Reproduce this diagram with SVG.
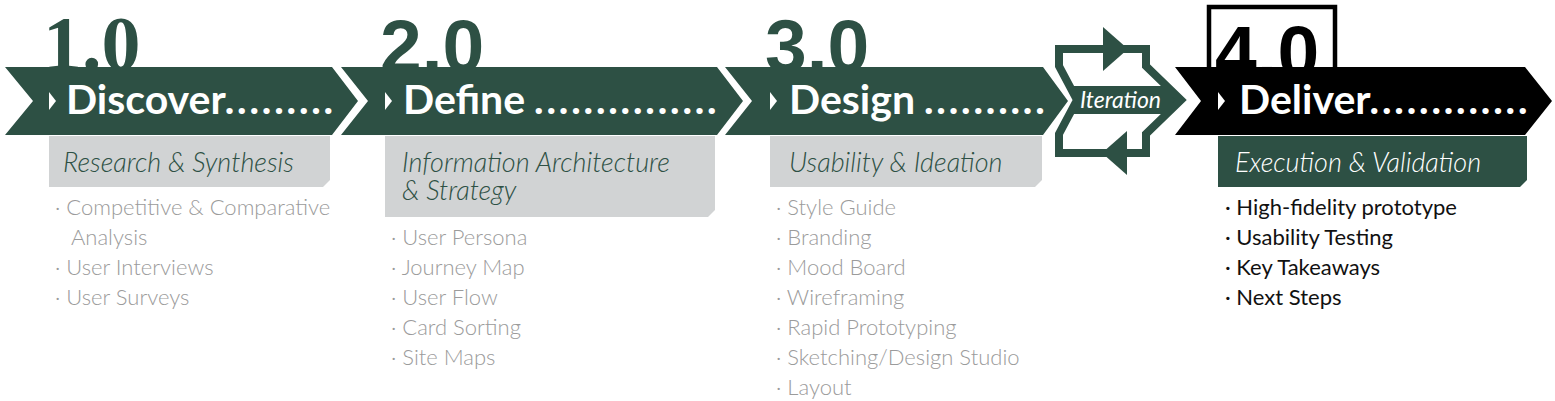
<svg xmlns="http://www.w3.org/2000/svg" width="1555" height="401" viewBox="0 0 1555 401">
<style>
.num{font-family:"Liberation Sans",Arial,sans-serif;font-weight:bold;font-size:75px;fill:#2d5044}
.num1{font-family:"Liberation Serif","Times New Roman",serif;font-weight:bold;font-size:78px;fill:#2d5044}
.green{fill:#2d5044}
.grey{fill:#d1d3d4}
.title{font-family:Lato,"Open Sans",sans-serif;font-weight:bold;font-size:41px;fill:#ffffff}
.dots{font-style:italic;letter-spacing:2.6px}
.sub{font-family:Lato,"Open Sans",sans-serif;font-style:italic;font-weight:300;font-size:27px;fill:#2d5044}
.list{font-family:Lato,"Open Sans",sans-serif;font-weight:300;font-size:22px;fill:#9b9b9b}
.list4{font-family:Lato,"Open Sans",sans-serif;font-weight:400;font-size:22px;fill:#111111}
.tri{fill:#ffffff}
</style>

<g id="node-discover">
  <text class="num1" x="43" y="70">1.0</text>
  <polygon class="green" points="5,67 332,67 358,101 332,135 5,135 33,101"/>
  <polygon class="tri" points="49,92 56,101 49,110"/>
  <text class="title" x="66" y="114">Discover<tspan class="dots">.........</tspan></text>
  <polygon class="grey" points="49,136 330,136 330,180 323,187 49,187"/>
  <text class="sub" x="63" y="172">Research &amp; Synthesis</text>
  <text class="list" x="55" y="215">· Competitive &amp; Comparative</text>
  <text class="list" x="71" y="245">Analysis</text>
  <text class="list" x="55" y="275">· User Interviews</text>
  <text class="list" x="55" y="305">· User Surveys</text>
</g>

<g id="node-define">
  <text class="num" x="380" y="72">2.0</text>
  <polygon class="green" points="341,67 717,67 743,101 717,135 341,135 368,101"/>
  <polygon class="tri" points="385,92 392,101 385,110"/>
  <text class="title" x="403" y="114">Define <tspan class="dots">...............</tspan></text>
  <polygon class="grey" points="385,136 715,136 715,210 708,217 385,217"/>
  <text class="sub" x="402" y="172">Information Architecture</text>
  <text class="sub" x="402" y="200">&amp; Strategy</text>
  <text class="list" x="391" y="245">· User Persona</text>
  <text class="list" x="391" y="275">· Journey Map</text>
  <text class="list" x="391" y="305">· User Flow</text>
  <text class="list" x="391" y="335">· Card Sorting</text>
  <text class="list" x="391" y="365">· Site Maps</text>
</g>

<g id="node-design">
  <text class="num" x="765" y="72">3.0</text>
  <polygon class="green" points="725,67 1043,67 1068,101 1043,135 725,135 752,101"/>
  <polygon class="tri" points="770,92 777,101 770,110"/>
  <text class="title" x="789" y="114">Design <tspan class="dots">..........</tspan></text>
  <polygon class="grey" points="770,136 1042,136 1042,180 1035,187 770,187"/>
  <text class="sub" x="789" y="172">Usability &amp; Ideation</text>
  <text class="list" x="776" y="215">· Style Guide</text>
  <text class="list" x="776" y="245">· Branding</text>
  <text class="list" x="776" y="275">· Mood Board</text>
  <text class="list" x="776" y="305">· Wireframing</text>
  <text class="list" x="776" y="335">· Rapid Prototyping</text>
  <text class="list" x="776" y="365">· Sketching/Design Studio</text>
  <text class="list" x="776" y="395">· Layout</text>
</g>

<g id="node-iteration">
  <polygon class="green" points="1069,86 1167,86 1181,100 1167,114 1069,114 1077,100"/>
  <polygon points="1059,49 1146,49 1146,66 1181,100 1146,134 1146,153 1059,153 1059,134 1077,100 1059,66" fill="none" stroke="#2d5044" stroke-width="8" stroke-linejoin="miter"/>
  <text x="1080" y="108" font-family="Lato,'Open Sans',sans-serif" font-style="italic" font-size="23" fill="#ffffff">Iteration</text>
</g>

<g id="connectors">
  <polygon class="green" points="1103,27 1128,49 1103,71"/>
  <polygon class="green" points="1127,131 1102,153 1127,175"/>
</g>

<g id="node-deliver">
  <text x="1215" y="78" font-family="'Liberation Sans',Arial,sans-serif" font-weight="bold" font-size="75" fill="#000000">4.0</text>
  <rect x="1209" y="7" width="126" height="64" fill="none" stroke="#000000" stroke-width="4.5"/>
  <polygon fill="#000000" points="1175,67 1525,67 1552,101 1525,135 1175,135 1201,101"/>
  <polygon class="tri" points="1218,92 1225,101 1218,110"/>
  <text class="title" x="1239" y="114">Deliver<tspan class="dots">.............</tspan></text>
  <polygon class="green" points="1218,136 1527,136 1527,180 1520,187 1218,187"/>
  <text class="sub" x="1235" y="172" style="fill:#ffffff">Execution &amp; Validation</text>
  <text class="list4" x="1225" y="215">· High-fidelity prototype</text>
  <text class="list4" x="1225" y="245">· Usability Testing</text>
  <text class="list4" x="1225" y="275">· Key Takeaways</text>
  <text class="list4" x="1225" y="305">· Next Steps</text>
</g>
</svg>
